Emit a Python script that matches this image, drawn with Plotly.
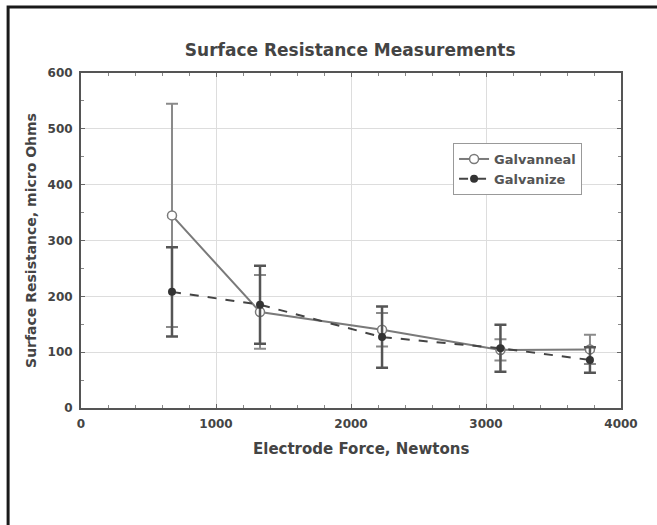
import plotly.graph_objects as go

force = [674, 1326, 2230, 3107, 3770]
galvanneal = [345, 172, 140, 104, 105]
galvanneal_err = [200, 66, 30, 19, 26]
galvanize = [208, 185, 127, 107, 86]
galvanize_err = [80, 70, 55, 42, 23]

fnt = "DejaVu Sans, Liberation Sans, sans-serif"
txt = "#444444"

fig = go.Figure()
fig.add_trace(go.Scatter(
    x=force, y=galvanneal, name="Galvanneal", mode="lines+markers",
    line=dict(color="#7a7a7a", width=2),
    marker=dict(symbol="circle", size=9, color="white", line=dict(color="#7a7a7a", width=1.5)),
    error_y=dict(type="data", array=galvanneal_err, visible=True, color="#8a8a8a", thickness=2, width=6),
))
fig.add_trace(go.Scatter(
    x=force, y=galvanize, name="Galvanize", mode="lines+markers",
    line=dict(color="#444444", width=2, dash="dash"),
    marker=dict(symbol="circle", size=8, color="#333333"),
    error_y=dict(type="data", array=galvanize_err, visible=True, color="#555555", thickness=2.5, width=6),
))

axis_common = dict(
    showline=True, linecolor="#555555", linewidth=2, mirror="ticks",
    showgrid=True, gridcolor="#dddddd", gridwidth=1,
    ticks="inside", ticklen=4, tickcolor="#666666",
    tickfont=dict(family=fnt, size=12, color=txt, weight="bold"),
    zeroline=False,
)

fig.update_xaxes(
    range=[0, 4000], dtick=1000, tick0=0, ticklabelstandoff=4,
    minor=dict(dtick=200, ticks="inside", ticklen=3, tickcolor="#888888", showgrid=False),
    **axis_common,
)
fig.update_yaxes(
    range=[0, 600], dtick=100, tick0=0, ticklabelstandoff=4,
    minor=dict(dtick=50, ticks="inside", ticklen=3, tickcolor="#888888", showgrid=False),
    title=dict(text="Surface Resistance, micro Ohms", font=dict(family=fnt, size=14, color=txt, weight="bold"), standoff=8),
    **axis_common,
)

fig.add_annotation(text="Electrode Force, Newtons", xref="paper", yref="paper",
                   x=0.519, y=-0.122, xanchor="center", yanchor="middle", showarrow=False,
                   font=dict(family=fnt, size=15, color=txt, weight="bold"))

fig.update_layout(
    width=657, height=525,
    margin=dict(l=81, r=36, t=73, b=117),
    paper_bgcolor="white", plot_bgcolor="white",
    title=dict(text="Surface Resistance Measurements", x=0.533, xanchor="center", y=0.905, yanchor="middle",
               font=dict(family=fnt, size=17, color=txt, weight="bold")),
    showlegend=True,
    legend=dict(x=0.689, y=0.791, xanchor="left", yanchor="top",
                bgcolor="white", bordercolor="#999999", borderwidth=1,
                font=dict(family=fnt, size=13, color="#555555", weight="bold"),
                itemwidth=30, tracegroupgap=4),
)

fig.add_shape(type="rect", xref="paper", yref="paper",
              x0=-0.135, x1=1.1, y0=-0.4, y1=1.197,
              line=dict(color="#1a1a1a", width=3), fillcolor="rgba(0,0,0,0)", layer="above")

fig.write_html("out.html")
